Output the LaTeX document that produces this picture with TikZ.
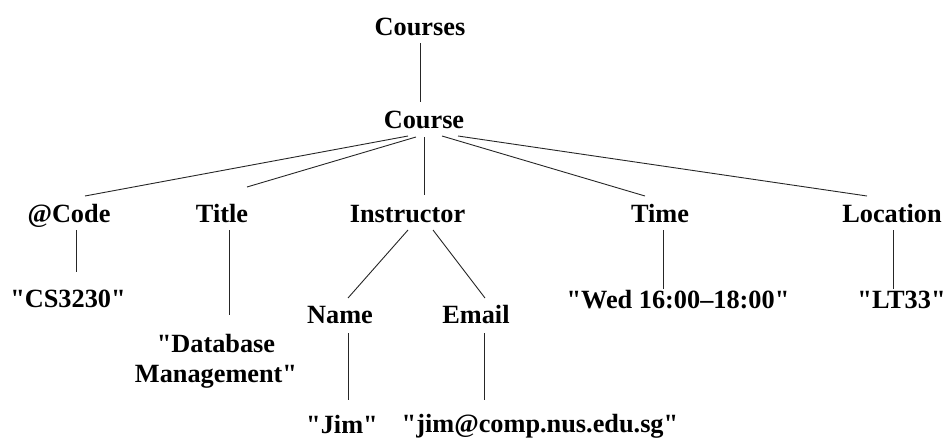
\documentclass[tikz,border=0pt]{standalone}
\usepackage{fontspec}
\setmainfont{Liberation Serif}[Ligatures=TeXOff]
\begin{document}
\begin{tikzpicture}[x=1pt,y=-1pt,
  lbl/.style={inner sep=0pt,anchor=base,font=\fontsize{26.3}{30}\selectfont\bfseries},
  edge/.style={line width=0.9pt,draw=black!85}]
\useasboundingbox (0,0) rectangle (950,439);
% nodes
\node[lbl] (courses) at (420,35) {Courses};
\node[lbl] (course) at (424,128) {Course};
\node[lbl] (code) at (69,222) {@Code};
\node[lbl] (title) at (222,222) {Title};
\node[lbl] (instr) at (407.5,222) {Instructor};
\node[lbl] (time) at (660,222) {Time};
\node[lbl] (loc) at (892,222) {Location};
\node[lbl] (cs) at (68,307) {"CS3230"};
\node[lbl,align=center] (db) at (216,382) {"Database\\Management"};
\node[lbl] (name) at (340,323) {Name};
\node[lbl] (email) at (476,323) {Email};
\node[lbl] (wed) at (678,308) {"Wed 16:00–18:00"};
\node[lbl] (lt) at (901.5,308) {"LT33"};
\node[lbl] (jim) at (342,433) {"Jim"};
\node[lbl] (mail) at (540,432) {"jim@comp.nus.edu.sg"};
% connectors
\draw[edge] ([shift={(0,8)}]courses.base) -- ([shift={(-4,-26)}]course.base);
\draw[edge] ([shift={(-16,8)}]course.base) -- ([shift={(16,-26)}]code.base);
\draw[edge] ([shift={(-8,9)}]course.base) -- ([shift={(25,-35)}]title.base);
\draw[edge] ([shift={(0,9)}]course.base) -- ([shift={(16.5,-27)}]instr.base);
\draw[edge] ([shift={(18,8)}]course.base) -- ([shift={(-15,-26)}]time.base);
\draw[edge] ([shift={(34,8)}]course.base) -- ([shift={(-25,-26)}]loc.base);
\draw[edge] ([shift={(7,8)}]code.base) -- ([shift={(8,-35)}]cs.base);
\draw[edge] ([shift={(7,8)}]title.base) -- ([shift={(13,-67)}]db.base);
\draw[edge] ([shift={(0.5,8)}]instr.base) -- ([shift={(8,-25)}]name.base);
\draw[edge] ([shift={(25.5,8)}]instr.base) -- ([shift={(9,-25)}]email.base);
\draw[edge] ([shift={(3,8)}]time.base) -- ([shift={(-15,-19)}]wed.base);
\draw[edge] ([shift={(1,8)}]loc.base) -- ([shift={(-8.5,-19)}]lt.base);
\draw[edge] ([shift={(8,10)}]name.base) -- ([shift={(6,-33)}]jim.base);
\draw[edge] ([shift={(8,10)}]email.base) -- ([shift={(-56,-32)}]mail.base);
\end{tikzpicture}
\end{document}
